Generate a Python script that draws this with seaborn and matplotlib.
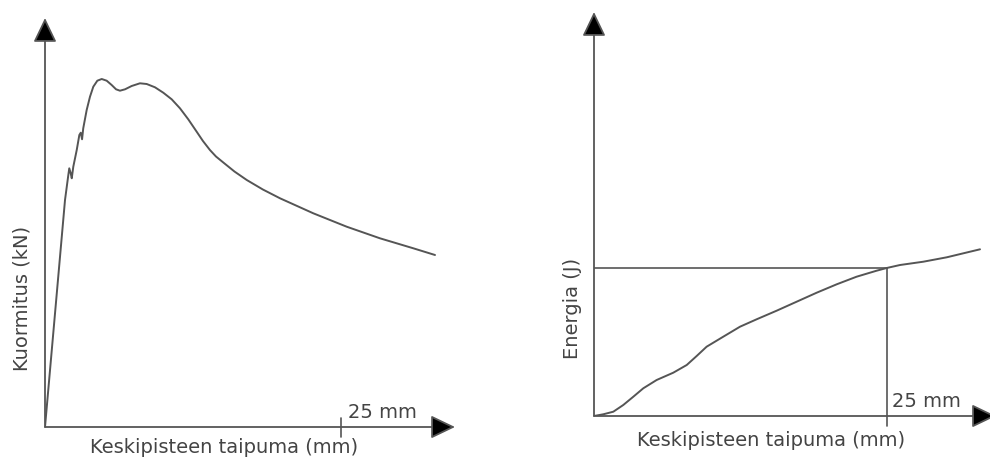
import numpy as np
import matplotlib
matplotlib.use("Agg")
import matplotlib.pyplot as plt
import seaborn as sns

# ---------------------------------------------------------------
# data (x in mm, y in relative units)
# ---------------------------------------------------------------
load_x_mm = [0.0, 1.69, 1.97, 2.05, 2.17, 2.26, 2.39, 2.68, 2.90, 3.02, 3.13,
             3.23, 3.52, 3.80, 4.08, 4.42, 4.79, 5.21, 5.63, 6.00, 6.33, 6.76,
             7.32, 8.02, 8.59, 9.29, 9.99, 10.70, 11.40, 12.10, 12.81, 13.34,
             13.93, 14.44, 15.06, 16.00, 17.04, 18.40, 19.85, 22.66, 25.48,
             28.29, 31.11, 32.94]
load_kn = [0, 227, 252, 258.7, 253.7, 248.7, 260.3, 277, 292, 294.3, 287.7,
           298.7, 317, 330.3, 340.3, 346.3, 348, 346.3, 342, 337.7, 336.3, 337.7,
           341, 343.7, 343, 339.7, 334.3, 327.7, 318.7, 307.7, 295.3, 286,
           277, 270.5, 264.5, 255.5, 247, 237.5, 228.7, 213.7, 200.3,
           188.7, 178.7, 172]

energy_x_mm = [0.0, 0.79, 1.65, 2.50, 3.36, 4.21, 5.35, 6.77, 7.92, 8.77, 9.62,
               11.04, 12.47, 13.89, 15.60, 17.31, 19.02, 20.73, 22.43, 24.14,
               25.0, 26.14, 28.13, 30.13, 32.97]
energy_j = [0, 1.7, 4.3, 11, 19.3, 27.7, 36, 43.3, 51, 60, 69.3,
            79.3, 89.3, 96.7, 105.3, 114.3, 123.3, 131.7, 139.3, 145.3,
            148, 151, 154.3, 158.7, 166.7]

mark_mm = 25
mark_label = "25 mm"
xlabel = "Keskipisteen taipuma (mm)"
left_ylabel = "Kuormitus (kN)"
right_ylabel = "Energia (J)"

# ---------------------------------------------------------------
# style
# ---------------------------------------------------------------
sns.set_theme(style="white")
plt.rcParams['font.family'] = ['DejaVu Sans']

line_col = "#555555"
text_col = "#444444"
fs = 14

W, H = 990, 457
fig = plt.figure(figsize=(W / 100, H / 100), dpi=100)


def make_axes(px_left, px_right, px_bottom, px_top, xmax, ymax):
    # axes placed so that data units map onto the reference's pixel grid
    ax = fig.add_axes([px_left / W, (H - px_bottom) / H,
                       (px_right - px_left) / W, (px_bottom - px_top) / H])
    ax.set_xlim(0, xmax)
    ax.set_ylim(0, ymax)
    for s in ax.spines.values():
        s.set_visible(False)
    ax.set_xticks([])
    ax.set_yticks([])
    ax.patch.set_alpha(0)
    return ax


def draw_arrow(ax, start, end):
    ax.annotate("", xy=end, xytext=start, xycoords="data",
                annotation_clip=False,
                arrowprops=dict(arrowstyle="-|>,head_length=15,head_width=7.2",
                                mutation_scale=1, shrinkA=0, shrinkB=0,
                                lw=1.3, ec=line_col, fc="black"))


def txt(ax, x, y, s, **kw):
    ax.text(x, y, s, fontsize=fs, color=text_col, clip_on=False, **kw)


# ----- left panel: load ----------------------------------------
px_per_mm_l = 296 / 25
axL = make_axes(45, 460, 427, 15, 415 / px_per_mm_l, 412)
sns.lineplot(x=load_x_mm, y=load_kn, ax=axL, color=line_col, lw=1.4,
             estimator=None, sort=False, solid_joinstyle="round")
draw_arrow(axL, (0, 0), (0, 409))
draw_arrow(axL, (0, 0), (410 / px_per_mm_l, 0))
axL.plot([mark_mm, mark_mm], [-10, 9], color=line_col, lw=1.2, clip_on=False)
txt(axL, mark_mm + 7 / px_per_mm_l, 5, mark_label, ha="left", va="bottom")
txt(axL, (224 - 45) / px_per_mm_l, -11, xlabel, ha="center", va="top")
txt(axL, (22 - 45) / px_per_mm_l, 129, left_ylabel, ha="center", va="center",
    rotation=90)

# ----- right panel: energy -------------------------------------
px_per_mm_r = 292.7 / 25
axR = make_axes(594, 990, 416, 10, 396 / px_per_mm_r, 406)
sns.lineplot(x=energy_x_mm, y=energy_j, ax=axR, color=line_col, lw=1.4,
             estimator=None, sort=False, solid_joinstyle="round")
draw_arrow(axR, (0, 0), (0, 404))
draw_arrow(axR, (0, 0), (402 / px_per_mm_r, 0))
e_at_mark = np.interp(mark_mm, energy_x_mm, energy_j)
axR.plot([0, mark_mm], [e_at_mark, e_at_mark], color=line_col, lw=1.2)
axR.plot([mark_mm, mark_mm], [-10, e_at_mark], color=line_col, lw=1.2, clip_on=False)
txt(axR, mark_mm + 5 / px_per_mm_r, 5, mark_label, ha="left", va="bottom")
txt(axR, (771 - 594) / px_per_mm_r, -15, xlabel, ha="center", va="top")
txt(axR, (572 - 594) / px_per_mm_r, 108, right_ylabel, ha="center", va="center",
    rotation=90)

fig.savefig("out.png", dpi=100, facecolor="white")
